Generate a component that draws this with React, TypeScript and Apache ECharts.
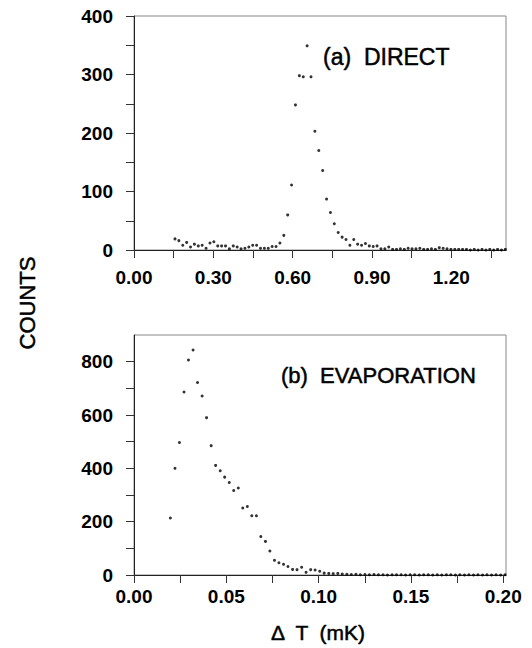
import React, { useEffect, useRef } from "react";
import * as echarts from "echarts";

// Panel (a) DIRECT
const directX = [
  0.155, 0.1697, 0.1844, 0.1991, 0.2138, 0.2285, 0.2432, 0.2579, 0.2726, 0.2873,
  0.302, 0.3167, 0.3314, 0.3461, 0.3608, 0.3755, 0.3902, 0.4049, 0.4196, 0.4343,
  0.449, 0.4637, 0.4784, 0.4931, 0.5078, 0.5225, 0.5372, 0.5519, 0.5666, 0.5813,
  0.596, 0.6107, 0.6254, 0.6401, 0.6548, 0.6695, 0.6842, 0.6989, 0.7136, 0.7283,
  0.743, 0.7577, 0.7724, 0.7871, 0.8018, 0.8165, 0.8312, 0.8459, 0.8606, 0.8753,
  0.89, 0.9047, 0.9194, 0.9341, 0.9488, 0.9635, 0.9782, 0.9929, 1.0076, 1.0223,
  1.037, 1.0517, 1.0664, 1.0811, 1.0958, 1.1105, 1.1252, 1.1399, 1.1546, 1.1693,
  1.184, 1.1987, 1.2134, 1.2281, 1.2428, 1.2575, 1.2722, 1.2869, 1.3016, 1.3163,
  1.331, 1.3457, 1.3604, 1.3751, 1.3898, 1.4045,
];
const directCounts = [
  19, 16, 8, 13, 5, 10, 7, 8, 3, 12,
  14, 7, 7, 7, 2, 7, 5, 2, 3, 5,
  8, 8, 3, 3, 3, 6, 6, 12, 25, 60,
  111, 248, 298, 296, 349, 296, 203, 170, 136, 87,
  64, 45, 30, 22, 18, 8, 18, 10, 8, 11,
  7, 6, 7, 2, 2, 5, 1, 1, 2, 1,
  3, 2, 2, 3, 1, 1, 2, 1, 4, 3,
  2, 1, 1, 1, 1, 1, 0, 1, 0, 1,
  0, 1, 0, 1, 0, 1,
];

// Panel (b) EVAPORATION
const evapX = [
  0.0197, 0.0222, 0.0246, 0.0271, 0.0295, 0.032, 0.0344, 0.0369, 0.0393, 0.0418,
  0.0442, 0.0467, 0.0491, 0.0516, 0.054, 0.0565, 0.0589, 0.0614, 0.0638, 0.0663,
  0.0687, 0.0712, 0.0736, 0.0761, 0.0785, 0.081, 0.0834, 0.0859, 0.0883, 0.0908,
  0.0932, 0.0957, 0.0981, 0.1006, 0.103, 0.1055, 0.1079, 0.1104, 0.1128, 0.1153,
  0.1177, 0.1202, 0.1226, 0.1251, 0.1275, 0.13, 0.1324, 0.1349, 0.1373, 0.1398,
  0.1422, 0.1447, 0.1471, 0.1496, 0.152, 0.1545, 0.1569, 0.1594, 0.1618, 0.1643,
  0.1667, 0.1692, 0.1716, 0.1741, 0.1765, 0.179, 0.1814, 0.1839, 0.1863, 0.1888,
  0.1912, 0.1937, 0.1961, 0.1986, 0.201,
];
const evapCounts = [
  214, 400, 497, 686, 806, 844, 722, 671, 590, 485,
  411, 391, 367, 347, 317, 326, 251, 257, 222, 222,
  144, 126, 90, 55, 46, 40, 32, 21, 20, 29,
  10, 20, 19, 14, 7, 6, 5, 6, 4, 3,
  2, 3, 1, 2, 1, 2, 1, 1, 0, 1,
  1, 1, 0, 1, 1, 0, 1, 1, 0, 1,
  0, 1, 1, 0, 1, 0, 1, 0, 1, 0,
  1, 0, 1, 0, 1,
];

// Tick positions and labels
const directXTicks = [0, 0.15, 0.3, 0.45, 0.6, 0.75, 0.9, 1.05, 1.2, 1.35];
const directXLabels = [0, 0.3, 0.6, 0.9, 1.2];
const directYTicks = [0, 50, 100, 150, 200, 250, 300, 350, 400];
const directYLabels = [0, 100, 200, 300, 400];
const evapXTicks = [0, 0.025, 0.05, 0.075, 0.1, 0.125, 0.15, 0.175, 0.2];
const evapXLabels = [0, 0.05, 0.1, 0.15, 0.2];
const evapYTicks = [0, 100, 200, 300, 400, 500, 600, 700, 800];
const evapYLabels = [0, 200, 400, 600, 800];

const titleA = "(a)  DIRECT";
const titleB = "(b)  EVAPORATION";
const yName = "COUNTS";
const xName = "Δ  T  (mK)";

const FONT = "'Liberation Sans', Arial, Helvetica, sans-serif";
const INK = "#000";

function axisCommon(ticks: number[], labels: number[], margin: number, fmt: (v: number) => string) {
  return {
    type: "value" as const,
    splitLine: { show: false },
    axisLine: { show: true, lineStyle: { color: "#222", width: 1 } },
    axisTick: { show: true, length: 8, lineStyle: { color: "#333", width: 1 }, customValues: ticks },
    minorTick: { show: false },
    axisLabel: {
      show: true,
      customValues: labels,
      margin,
      color: INK,
      fontFamily: FONT,
      fontWeight: "bold" as const,
      fontSize: 19,
      formatter: (v: number) => fmt(v),
    },
  };
}

const textStyle = (text: string, size: number, align: string) => ({
  text,
  font: `${size}px ${FONT}`,
  fill: INK,
  stroke: INK,
  lineWidth: 0.5,
  align,
  verticalAlign: "middle",
  textAlign: align,
  textVerticalAlign: "middle",
});

export default function App() {
  const ref = useRef<HTMLDivElement>(null);
  useEffect(() => {
    if (!ref.current) return;
    const chart = echarts.init(ref.current, undefined, { renderer: "svg" });
    const option = {
      animation: false,
      backgroundColor: "#fff",
      grid: [
        { left: 134, top: 16, width: 372, height: 234, show: true, borderColor: "#888", borderWidth: 1 },
        { left: 134, top: 335, width: 372, height: 240, show: true, borderColor: "#888", borderWidth: 1 },
      ],
      xAxis: [
        { ...axisCommon(directXTicks, directXLabels, 18, (v) => v.toFixed(2)), gridIndex: 0, min: 0, max: 1.407 },
        { ...axisCommon(evapXTicks, evapXLabels, 12, (v) => v.toFixed(2)), gridIndex: 1, min: 0, max: 0.2015 },
      ],
      yAxis: [
        { ...axisCommon(directYTicks, directYLabels, 21, (v) => String(v)), gridIndex: 0, min: 0, max: 400 },
        { ...axisCommon(evapYTicks, evapYLabels, 21, (v) => String(v)), gridIndex: 1, min: 0, max: 900 },
      ],
      series: [
        {
          type: "scatter",
          xAxisIndex: 0,
          yAxisIndex: 0,
          symbol: "circle",
          symbolSize: 3,
          itemStyle: { color: INK },
          data: directX.map((x, i) => [x, directCounts[i]]),
        },
        {
          type: "scatter",
          xAxisIndex: 1,
          yAxisIndex: 1,
          symbol: "circle",
          symbolSize: 3,
          itemStyle: { color: INK },
          data: evapX.map((x, i) => [x, evapCounts[i]]),
        },
      ],
      graphic: [
        { type: "text", x: 323, y: 57, style: textStyle(titleA, 23, "left") },
        { type: "text", x: 281, y: 375, style: textStyle(titleB, 22, "left") },
        { type: "text", x: 27, y: 303, rotation: Math.PI / 2, style: textStyle(yName, 22, "center") },
        { type: "text", x: 318, y: 632, style: textStyle(xName, 21, "center") },
      ],
    };
    chart.setOption(option as any);
    return () => chart.dispose();
  }, []);
  return <div ref={ref} style={{ position: "absolute", left: 0, top: 0, width: 532, height: 648 }} />;
}
